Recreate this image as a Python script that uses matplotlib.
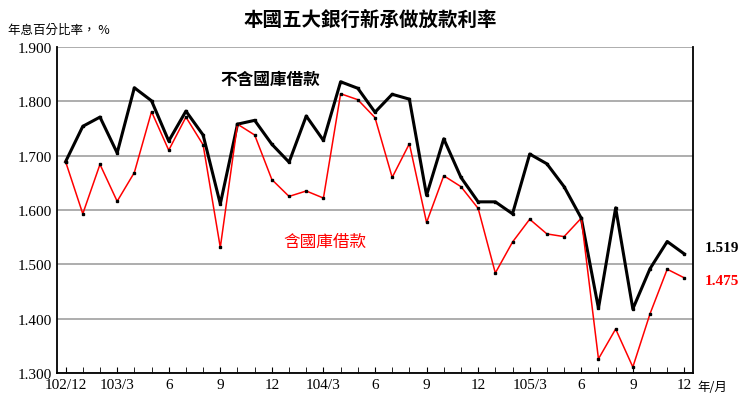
import matplotlib
matplotlib.use("Agg")
import matplotlib.pyplot as plt
import numpy as np

months = ["102/12"] + [f"103/{m}" for m in range(1, 13)] + [f"104/{m}" for m in range(1, 13)] + [f"105/{m}" for m in range(1, 13)]
excl = [1.689, 1.754, 1.771, 1.705, 1.825, 1.801, 1.727, 1.782, 1.738, 1.611, 1.758, 1.765, 1.721,
        1.688, 1.773, 1.728, 1.836, 1.824, 1.780, 1.813, 1.804, 1.627, 1.731, 1.660, 1.615,
        1.615, 1.593, 1.703, 1.685, 1.643, 1.585, 1.419, 1.604, 1.418, 1.492, 1.542, 1.519]
incl = [1.689, 1.593, 1.684, 1.616, 1.669, 1.781, 1.710, 1.771, 1.720, 1.531, 1.758, 1.738, 1.656,
        1.625, 1.635, 1.622, 1.814, 1.803, 1.770, 1.660, 1.722, 1.577, 1.663, 1.643, 1.603,
        1.484, 1.541, 1.583, 1.556, 1.551, 1.585, 1.326, 1.381, 1.311, 1.409, 1.491, 1.475]
tick_labels = ["102/12", "103/3", "6", "9", "12", "104/3", "6", "9", "12", "105/3", "6", "9", "12"]
yticks = [1.3, 1.4, 1.5, 1.6, 1.7, 1.8, 1.9]

cjk = "Noto Sans CJK TC"
serif = "Liberation Serif"

fig = plt.figure(figsize=(7.4, 4.1), dpi=100)
ax = fig.add_axes([57/740, 1-374/410, (693-57)/740, (374-48)/410])
x = np.arange(len(months))
ax.plot(x, excl, color="black", lw=2.2, marker="s", ms=1.8, zorder=3)
ax.plot(x, incl, color="red", lw=1.1, marker="s", ms=1.8, mfc="black", mec="black", zorder=3)
ax.set_xlim(-0.5, len(months) - 0.5)
ax.set_ylim(1.3, 1.9)
ax.set_yticks(yticks)
ax.set_yticklabels([f"{v:.3f}" for v in yticks], fontfamily=serif, fontsize=11)
ax.set_xticks(x[::3])
ax.set_xticklabels(tick_labels, fontfamily=serif, fontsize=11)
ax.set_xticks(x, minor=True)
ax.tick_params(axis="x", which="both", direction="in", length=4)
ax.tick_params(axis="y", length=0)
ax.grid(axis="y", color="#a0a0a0", lw=1.2)
ax.set_axisbelow(True)
ax.spines["top"].set_visible(False)
for s in ["left", "bottom", "right"]:
    ax.spines[s].set_linewidth(1.3)

fig.text(0.5, 1-20/410, "本國五大銀行新承做放款利率", ha="center", va="center", fontfamily=cjk, fontsize=14, fontweight="bold")
fig.text(8/740, 1-30/410, "年息百分比率， %", ha="left", va="center", fontfamily=cjk, fontsize=9)
fig.text(697/740, 1-388/410, "年/月", ha="left", va="center", fontfamily=cjk, fontsize=9)
ax.text(9, 1.842, "不含國庫借款", ha="left", va="center", fontfamily=cjk, fontsize=12, color="black", fontweight="bold")
ax.text(12.7, 1.542, "含國庫借款", ha="left", va="center", fontfamily=cjk, fontsize=12, color="red")
ax.text(37.2, excl[-1] + 0.012, f"{excl[-1]:.3f}", fontfamily=serif, fontsize=11, fontweight="bold", color="black", va="center", clip_on=False)
ax.text(37.2, incl[-1] - 0.005, f"{incl[-1]:.3f}", fontfamily=serif, fontsize=11, fontweight="bold", color="red", va="center", clip_on=False)
fig.savefig("out.png", dpi=100)
